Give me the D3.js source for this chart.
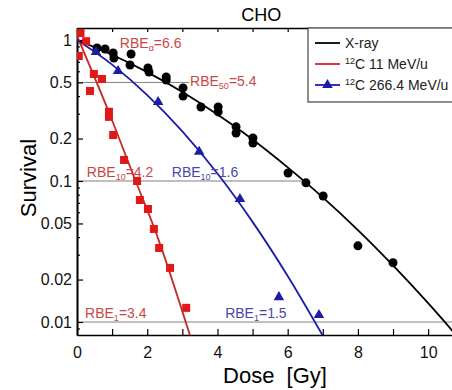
<!DOCTYPE html>
<html>
<head>
<meta charset="utf-8">
<script src="https://cdn.jsdelivr.net/npm/d3@7"></script>
<style>
  body { margin: 0; background: #fff; }
  svg { font-family: "Liberation Sans", Arial, sans-serif; }
</style>
</head>
<body>
<svg id="chart" width="452" height="390"></svg>
<script>
// measured points
const xrayDose = [0.57, 0.8, 1.03, 1.05, 1.54, 1.51, 2.02, 2.05, 2.54, 2.54, 3.02, 3.02, 3.53, 4.02, 4.02, 4.53, 4.53, 5.01, 5.01, 6.01, 6.52, 7.01, 8.0, 9.0];
const xraySurv = [0.878, 0.863, 0.809, 0.745, 0.796, 0.665, 0.633, 0.593, 0.547, 0.52, 0.457, 0.40, 0.335, 0.335, 0.309, 0.242, 0.219, 0.202, 0.186, 0.114, 0.097, 0.0783, 0.0347, 0.0263];

const c11Dose = [0.1, 0.26, 0.05, 0.48, 0.71, 0.37, 0.91, 0.91, 1.03, 1.34, 1.71, 1.79, 2.02, 2.19, 2.34, 2.65, 3.11];
const c11Surv = [1.12, 0.98, 0.77, 0.574, 0.529, 0.435, 0.31, 0.285, 0.212, 0.141, 0.100, 0.0733, 0.0633, 0.0457, 0.0335, 0.0242, 0.0126];

const c266Dose = [0.54, 1.17, 2.31, 3.48, 4.64, 5.75, 6.89];
const c266Surv = [0.822, 0.603, 0.363, 0.161, 0.0745, 0.0150, 0.0112];

// fitted curves
const xrayFitDose = [0, 1, 2, 3, 4, 5, 6, 7, 8, 9, 10, 10.85];
const xrayFitSurv = [1, 0.786, 0.592, 0.428, 0.296, 0.197, 0.125, 0.0766, 0.0449, 0.0252, 0.0136, 0.0078];
const c11FitDose = [0, 0.88, 1.67, 2.22, 3.22];
const c11FitSurv = [1.07, 0.32, 0.10, 0.045, 0.008];
const c266FitDose = [0, 1, 2, 3, 4, 5, 6, 7];
const c266FitSurv = [1, 0.669, 0.407, 0.225, 0.113, 0.0513, 0.0212, 0.008];

// reference levels and where they stop
const refLevels = [0.5, 0.1, 0.01];
const refEnds = [3.2, 6.4, 10.85];

const xTicks = [0, 1, 2, 3, 4, 5, 6, 7, 8, 9, 10];
const yTicks = [1, 0.5, 0.2, 0.1, 0.05, 0.02, 0.01];

const seriesNames = ['X-ray', '11 MeV/u', '266.4 MeV/u'];

const margin = { top: 28, right: -6, bottom: 55, left: 77 };
const width = 452 - margin.left - margin.right;
const height = 390 - margin.top - margin.bottom;

const red = '#e01818', redText = '#c84848', blue = '#1c1ca6', blueText = '#4848a8';

const svg = d3.select('#chart');
const g = svg.append('g')
  .attr('transform', 'translate(' + margin.left + ',' + margin.top + ')');

const x = d3.scaleLinear().domain([0, 10.85]).range([0, width]);
const y = d3.scaleLog().domain([0.00809, 1.216]).range([height, 0]);

g.append('defs').append('clipPath').attr('id', 'plotclip')
  .append('rect').attr('width', width).attr('height', height);

// minor log ticks
let minors = [];
[0.001, 0.01, 0.1].forEach(p => {
  for (let k = 1; k < 10; k++) {
    const v = +(k * p).toPrecision(3);
    if (v >= 0.00809 && v <= 1.216 && yTicks.indexOf(v) < 0) minors.push(v);
  }
});

// reference lines
g.append('g').selectAll('line')
  .data(refLevels)
  .enter().append('line')
  .attr('x1', 0)
  .attr('x2', (d, i) => x(refEnds[i]))
  .attr('y1', d => y(d)).attr('y2', d => y(d))
  .style('stroke', '#808080').style('stroke-width', 1);

// axes
const xAxis = g.append('g')
  .attr('transform', 'translate(0,' + height + ')')
  .call(d3.axisBottom(x).tickValues(xTicks).tickSizeInner(-6).tickSizeOuter(0).tickPadding(12)
    .tickFormat(d => d % 2 === 0 ? d : ''));
const topAxis = g.append('g')
  .call(d3.axisTop(x).tickValues(xTicks).tickSizeInner(-4).tickSizeOuter(0).tickFormat(''));
const yAxis = g.append('g')
  .call(d3.axisLeft(y).tickValues(yTicks).tickSizeInner(-6).tickSizeOuter(0).tickPadding(5)
    .tickFormat(d => String(d)));
const yMinor = g.append('g')
  .call(d3.axisLeft(y).tickValues(minors).tickSizeInner(-3).tickSizeOuter(0).tickFormat(''));

[xAxis, topAxis, yAxis, yMinor].forEach(a => {
  a.select('.domain').style('stroke', '#000').style('stroke-width', 1.6);
  a.selectAll('.tick line').style('stroke', '#000').style('stroke-width', 1.2);
  a.selectAll('.tick text').style('font-size', '16px').style('fill', '#111')
    .style('font-family', '"Liberation Sans", Arial, sans-serif');
});

// fit curves
const line = d3.line()
  .x(d => x(d[0]))
  .y(d => y(d[1]))
  .curve(d3.curveMonotoneX);

const plot = g.append('g').attr('clip-path', 'url(#plotclip)');

plot.append('path')
  .datum(xrayFitDose.map((d, i) => [d, xrayFitSurv[i]]))
  .attr('d', line)
  .style('fill', 'none').style('stroke', '#000').style('stroke-width', 1.8);
plot.append('path')
  .datum(c11FitDose.map((d, i) => [d, c11FitSurv[i]]))
  .attr('d', line)
  .style('fill', 'none').style('stroke', '#c82828').style('stroke-width', 1.8);
plot.append('path')
  .datum(c266FitDose.map((d, i) => [d, c266FitSurv[i]]))
  .attr('d', line)
  .style('fill', 'none').style('stroke', blue).style('stroke-width', 1.8);

// markers
plot.append('g').selectAll('circle')
  .data(xrayDose.map((d, i) => [d, xraySurv[i]]))
  .enter().append('circle')
  .attr('cx', d => x(d[0])).attr('cy', d => y(d[1]))
  .attr('r', 4.5)
  .style('fill', '#000');

plot.append('g').selectAll('rect')
  .data(c11Dose.map((d, i) => [d, c11Surv[i]]))
  .enter().append('rect')
  .attr('x', d => x(d[0]) - 4).attr('y', d => y(d[1]) - 4)
  .attr('width', 8).attr('height', 8)
  .style('fill', red);

const tri = d3.symbol().type(d3.symbolTriangle).size(48);
plot.append('g').selectAll('path')
  .data(c266Dose.map((d, i) => [d, c266Surv[i]]))
  .enter().append('path')
  .attr('transform', d => 'translate(' + x(d[0]) + ',' + y(d[1]) + ')')
  .attr('d', tri)
  .style('fill', blue);

// RBE annotations
const notes = [
  { dose: 1.22, surv: 0.877, sub: 'α', val: '=6.6', color: redText },
  { dose: 3.22, surv: 0.472, sub: '50', val: '=5.4', color: redText },
  { dose: 0.28, surv: 0.107, sub: '10', val: '=4.2', color: redText },
  { dose: 2.70, surv: 0.107, sub: '10', val: '=1.6', color: blueText },
  { dose: 0.23, surv: 0.01067, sub: '1', val: '=3.4', color: redText },
  { dose: 4.22, surv: 0.01067, sub: '1', val: '=1.5', color: blueText }
];
notes.forEach(n => {
  const t = g.append('text')
    .attr('x', x(n.dose)).attr('y', y(n.surv))
    .style('font-size', '14px').style('fill', n.color);
  t.append('tspan').text('RBE');
  t.append('tspan').attr('dy', 3).style('font-size', '9px').text(n.sub);
  t.append('tspan').attr('dy', -3).text(n.val);
});

// title and axis labels
svg.append('text')
  .attr('x', margin.left + x(5.25)).attr('y', 21)
  .attr('text-anchor', 'middle')
  .style('font-size', '18px')
  .text('CHO');
svg.append('text')
  .attr('x', 275).attr('y', 383)
  .attr('text-anchor', 'middle')
  .style('font-size', '22px').style('white-space', 'pre')
  .text('Dose  [Gy]');
svg.append('text')
  .attr('transform', 'translate(36,178) rotate(-90)')
  .attr('text-anchor', 'middle')
  .style('font-size', '22px')
  .text('Survival');

// legend
const legend = svg.append('g').attr('transform', 'translate(308,28)');
legend.append('rect')
  .attr('width', 170).attr('height', 74)
  .style('fill', '#fff').style('stroke', '#444').style('stroke-width', 1.2);
const legColors = ['#000', '#e02020', blue];
seriesNames.forEach((name, i) => {
  const ly = 15 + i * 21;
  legend.append('line')
    .attr('x1', 7).attr('x2', 32).attr('y1', ly).attr('y2', ly)
    .style('stroke', legColors[i]).style('stroke-width', 1.8);
  if (i === 2) {
    legend.append('path')
      .attr('transform', 'translate(19.5,' + ly + ')')
      .attr('d', tri).style('fill', blue);
  }
  const t = legend.append('text')
    .attr('x', 37).attr('y', ly + 5)
    .style('font-size', '14px').style('fill', '#222');
  if (i === 0) {
    t.text(name);
  } else {
    t.append('tspan').attr('dy', -5).style('font-size', '9px').text('12');
    t.append('tspan').attr('dy', 5).text('C ' + name);
  }
});
</script>
</body>
</html>
